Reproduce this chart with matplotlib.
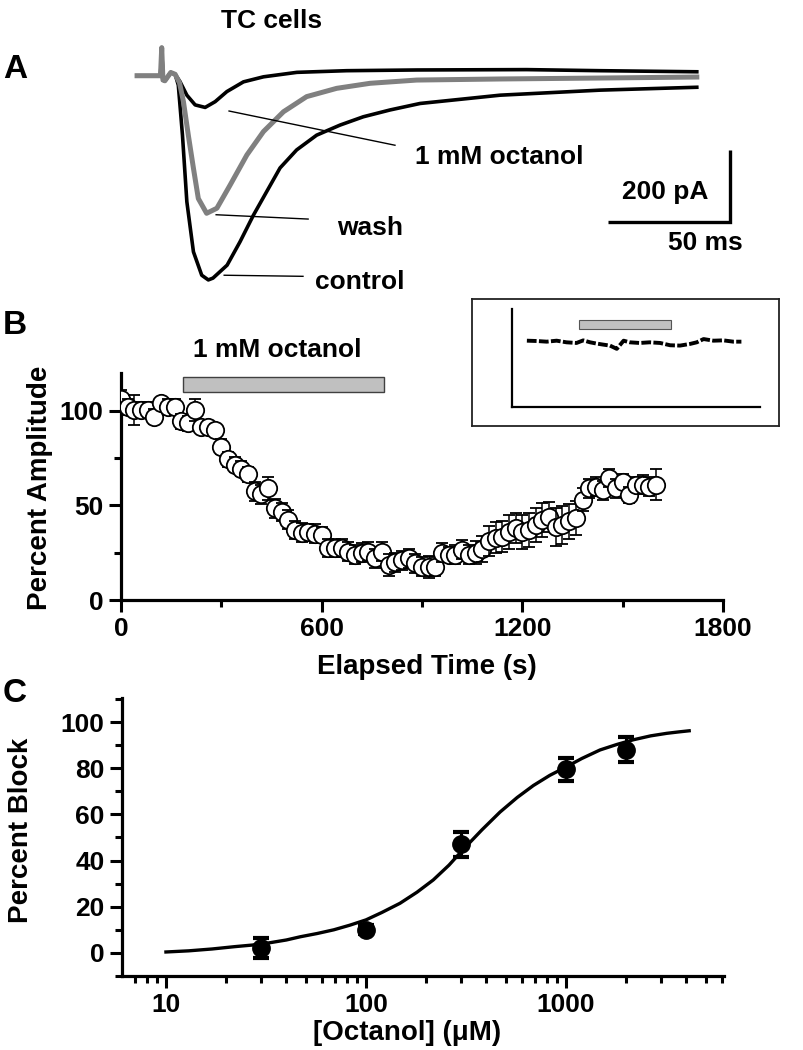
import matplotlib
matplotlib.use('Agg')
import matplotlib.pyplot as plt
from matplotlib.patches import Rectangle
from matplotlib.ticker import FixedLocator, LogLocator, FuncFormatter, NullFormatter

plt.rcParams['font.family'] = ['Liberation Sans', 'DejaVu Sans']
plt.rcParams['font.weight'] = 'bold'

# ---- panel A: example currents (ms, pA) ----
t_control = [0, 9.6, 10.1, 10.6, 11.4, 13.8, 15.6, 16.9, 18.6, 20.4, 23.1, 26.5, 29.2, 31.1,
             36.9, 42.2, 47.7, 53.1, 58.6, 65.4, 73.6, 83.2, 92.7, 103.7, 116, 148.8, 189.8, 229.4]
i_control = [0, 0, 78, -12, -14, 9, 4, -26, -165, -350, -489, -554, -567, -562,
             -526, -461, -387, -322, -256, -206, -165, -137, -114, -95, -77, -54, -40, -32]
t_wash = [0, 9.6, 10.1, 10.6, 11.4, 13.8, 15.6, 17.4, 19, 21, 23.1, 25.1, 28.5, 32.7, 38.1,
          45, 51.8, 60, 69.5, 81.8, 95.5, 114.6, 148.8, 189.8, 229.4]
i_wash = [0, 0, 78, -12, -14, 9, 4, -20, -72, -165, -257, -341, -382, -368, -304,
          -220, -155, -100, -58, -35, -21, -12, -9, -6.4, -3.6]
t_octanol = [0, 9.6, 10.1, 10.6, 11.4, 13.8, 15.6, 17.6, 20.4, 23.8, 27.9, 32, 36.8, 43.6,
             51.8, 65.5, 85.9, 114.6, 159.7, 189.8, 229.4]
i_octanol = [0, 0, 78, -12, -14, 9, 4, -16.5, -54, -81, -88, -72, -44, -17,
             -3, 9.4, 14, 16, 17, 14, 11]

# ---- panel B: time course ----
time_b = [0, 20, 40, 60, 80, 100, 120, 140, 160, 180, 200, 220, 240, 260, 280, 300, 320,
          340, 360, 380, 400, 420, 440, 460, 480, 500, 520, 540, 560, 580, 600, 620, 640,
          660, 680, 700, 720, 740, 760, 780, 800, 820, 840, 860, 880, 900, 920, 940, 960,
          980, 1000, 1020, 1040, 1060, 1080, 1100, 1120, 1140, 1160, 1180, 1200, 1220,
          1240, 1260, 1280, 1300, 1320, 1340, 1360, 1380, 1400, 1420, 1440, 1460, 1480,
          1500, 1520, 1540, 1560, 1580, 1600]
amp_b = [106, 102, 100.5, 100.5, 100.5, 97, 104, 102, 102, 94.5, 93.5, 100.5, 91.5, 91.5,
         90, 81, 74.5, 71.5, 69.5, 66.5, 57.5, 56, 59, 48.5, 46.5, 42.5, 37, 35.5, 36, 35,
         34.5, 27.5, 27.5, 27.5, 25.5, 24, 25, 25.5, 22, 25.5, 18.5, 20, 21, 22, 19.5, 17.5,
         17.5, 17.5, 25, 24, 24, 26.5, 24, 25, 27, 31, 33, 33.5, 36, 38, 36, 37, 39.5, 42.5,
         44, 38.5, 39.5, 41.5, 43.5, 53, 59, 60, 58, 64.5, 59, 62.5, 55.5, 61, 61, 60, 61]
err_b = [5, 4, 8, 4, 4, 4, 3, 4, 4, 4,
         4, 6, 3, 3, 3, 4, 4, 4, 4, 4,
         5, 5, 6, 5, 5, 5, 5, 5, 4, 5,
         4, 5, 5, 5, 5, 5, 5, 5, 5, 5,
         6, 5, 5, 5, 5, 5, 6, 5, 5, 4,
         5, 5, 5, 6, 7, 8, 8, 8, 9, 8,
         9, 9, 9, 9, 8, 10, 10, 9, 9, 6,
         5, 5, 5, 5, 5, 4, 4, 4, 5, 5,
         8]
drug_b = (186, 786)

# inset trace
time_in = [120, 200, 280, 360, 440, 520, 575, 630, 685, 735, 790, 845, 900, 950, 1030,
           1110, 1195, 1275, 1355, 1435, 1490, 1545, 1625, 1705, 1785, 1850]
amp_in = [101.5, 101, 100, 101.5, 99, 98, 102, 99, 97, 95.5, 94, 89, 101.5, 99, 98,
          99, 98, 94.5, 94, 96.5, 99, 104, 101.5, 102, 100, 100]
drug_in = (540, 1280)

# ---- panel C: dose response ----
conc = [30, 100, 300, 1000, 2000]
block = [2, 10, 47, 79.5, 88]
block_err = [4.3, 2, 5.5, 5, 5.5]
fit_conc = [10, 13, 17, 22, 27, 32, 40, 47, 57, 69, 83, 100, 120, 148, 180, 217, 260, 307,
            380, 468, 570, 687, 830, 1000, 1200, 1480, 1800, 2170, 2650, 3190, 3650, 4130]
fit_block = [0.4, 0.9, 1.7, 2.7, 3.4, 4.2, 5.6, 7, 8.4, 10, 12, 14.3, 17.5, 21.5, 26.3,
             31.6, 38, 44.9, 53.3, 61, 67.3, 72.5, 76.9, 80.5, 84.2, 87.9, 90.3, 92.3,
             94, 95.1, 95.7, 96.2]

W, H = 804, 1050
fig = plt.figure(figsize=(W / 100, H / 100), dpi=100)


def box(x0, y0, x1, y1):
    # pixel box, origin top-left -> figure rect
    return [x0 / W, 1 - y1 / H, (x1 - x0) / W, (y1 - y0) / H]


def ftext(x, y, s, **kw):
    fig.text(x / W, 1 - y / H, s, **kw)


# ---------------- A ----------------
axA = fig.add_axes(box(130, 30, 760, 290))
axA.set_xlim(-2.9, 255.3)
axA.set_ylim(-595, 127)
axA.axis('off')
axA.plot(t_control, i_control, color='black', lw=2.6, solid_joinstyle='round', clip_on=False)
axA.plot(t_octanol, i_octanol, color='black', lw=2.6, solid_joinstyle='round', clip_on=False)
axA.plot(t_wash, i_wash, color='#808080', lw=3.6, solid_joinstyle='round', clip_on=False)
# leader lines
axA.plot([37.7, 105.7], [-98, -193], color='black', lw=1)
axA.plot([32.4, 70.1], [-386, -398], color='black', lw=1)
axA.plot([35.7, 68], [-554, -557], color='black', lw=1)
# scale bar 50 ms / 200 pA
axA.plot([193, 243, 243], [-406, -406, -206], color='black', lw=2.4,
         solid_joinstyle='miter', solid_capstyle='butt')

ftext(272, 21, 'TC cells', ha='center', va='center', fontsize=19)
ftext(415, 157, '1 mM octanol', ha='left', va='center', fontsize=19)
ftext(337, 228, 'wash', ha='left', va='center', fontsize=19)
ftext(315, 282, 'control', ha='left', va='center', fontsize=19)
ftext(708, 192, '200 pA', ha='right', va='center', fontsize=19)
ftext(705, 243, '50 ms', ha='center', va='center', fontsize=19)
ftext(15, 70, 'A', ha='center', va='center', fontsize=24)
ftext(15, 325, 'B', ha='center', va='center', fontsize=24)
ftext(15, 693, 'C', ha='center', va='center', fontsize=24)

# ---------------- B ----------------
axB = fig.add_axes(box(121, 373, 723, 600))
for k in range(len(time_b)):
    axB.errorbar([time_b[k]], [amp_b[k]], yerr=[err_b[k]], fmt='o', ms=12.5,
                 mfc='white', mec='black', mew=1.3, ecolor='black', elinewidth=1.1,
                 capsize=4.5, capthick=1.1, zorder=3 + 0.2 * k)
axB.add_patch(Rectangle((drug_b[0], 110), drug_b[1] - drug_b[0], 8, fc='#c0c0c0',
                        ec='#404040', lw=1, clip_on=False, zorder=2))
axB.set_xlim(0, 1800)
axB.set_ylim(0, 120)
axB.xaxis.set_major_locator(FixedLocator([0, 600, 1200, 1800]))
axB.xaxis.set_minor_locator(FixedLocator([300, 900, 1500]))
axB.yaxis.set_major_locator(FixedLocator([0, 50, 100]))
axB.yaxis.set_minor_locator(FixedLocator([25, 75]))
ftext(277, 350, '1 mM octanol', ha='center', va='center', fontsize=19)
ftext(40, 488, 'Percent Amplitude', ha='center', va='center', rotation=90, fontsize=20)
ftext(427, 667, 'Elapsed Time (s)', ha='center', va='center', fontsize=20)

# inset
axBox = fig.add_axes(box(472, 299, 779, 426))
axBox.set_xticks([])
axBox.set_yticks([])
for s in axBox.spines.values():
    s.set_linewidth(1.3)
    s.set_color('#222222')
axI = fig.add_axes(box(512, 309, 760, 407))
axI.set_xlim(0, 2000)
axI.set_ylim(0, 150)
axI.set_xticks([])
axI.set_yticks([])
axI.spines['top'].set_visible(False)
axI.spines['right'].set_visible(False)
axI.spines['left'].set_linewidth(1.6)
axI.spines['bottom'].set_linewidth(1.6)
axI.set_facecolor('none')
axI.plot(time_in, amp_in, color='black', lw=2.8, ls=(0, (2.5, 0.6)))
axI.add_patch(Rectangle((drug_in[0], 119.5), drug_in[1] - drug_in[0], 13.5,
                        fc='#c0c0c0', ec='#555555', lw=0.8))

# ---------------- C ----------------
axC = fig.add_axes(box(122, 698, 724, 976))
axC.set_xscale('log')
axC.plot(fit_conc, fit_block, color='black', lw=2.4, solid_joinstyle='round')
axC.errorbar(conc, block, yerr=block_err, fmt='o', ms=12.5, color='black',
             elinewidth=2.2, capsize=5.5, capthick=3, zorder=4)
axC.set_xlim(6.03, 6166)
axC.set_ylim(-10, 110.4)
axC.xaxis.set_major_locator(FixedLocator([10, 100, 1000]))
axC.xaxis.set_minor_locator(LogLocator(base=10, subs=range(2, 10)))
axC.xaxis.set_major_formatter(FuncFormatter(lambda v, p: f'{v:g}'))
axC.xaxis.set_minor_formatter(NullFormatter())
axC.yaxis.set_major_locator(FixedLocator([0, 20, 40, 60, 80, 100]))
axC.yaxis.set_minor_locator(FixedLocator([-10, 10, 30, 50, 70, 90, 110]))
ftext(21, 830, 'Percent Block', ha='center', va='center', rotation=90, fontsize=20)
ftext(407, 1033, '[Octanol] (\u03bcM)', ha='center', va='center', fontsize=20)

for ax in (axB, axC):
    ax.spines['top'].set_visible(False)
    ax.spines['right'].set_visible(False)
    ax.spines['left'].set_linewidth(2.3)
    ax.spines['bottom'].set_linewidth(2.3)
    ax.tick_params(which='major', direction='out', length=8.5, width=2.2, labelsize=19, pad=4)
    ax.tick_params(which='minor', direction='out', length=5, width=2.2)

fig.savefig('out.png', dpi=100)
